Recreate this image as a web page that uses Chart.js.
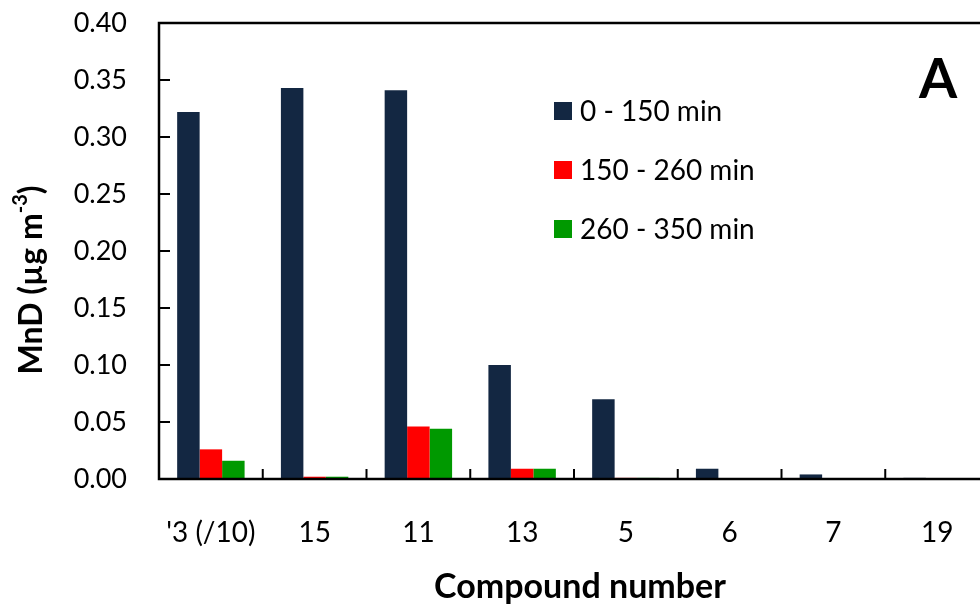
<!DOCTYPE html>
<html>
<head>
<meta charset="utf-8">
<script src="https://cdn.jsdelivr.net/npm/chart.js@4.4.1/dist/chart.umd.min.js"></script>
<style>
  html, body { margin: 0; padding: 0; background: #fff; overflow: hidden; }
  #wrap { width: 1000px; height: 605px; position: relative; }
</style>
</head>
<body>
<div id="wrap"><canvas id="myChart"></canvas></div>
<script>
// categorias (números dos compostos) e séries por intervalo de tempo
const compostos = ["'3 (/10)", "15", "11", "13", "5", "6", "7", "19"];
const legendas = ["0 - 150 min", "150 - 260 min", "260 - 350 min"];
const serie0a150 = [0.322, 0.343, 0.341, 0.100, 0.070, 0.009, 0.004, 0.001];
const serie150a260 = [0.026, 0.002, 0.046, 0.009, 0.001, 0.0005, 0.0003, 0.0002];
const serie260a350 = [0.016, 0.002, 0.044, 0.009, 0.001, 0.0005, 0.0003, 0.0002];
const cores = ["#132742", "#ff0000", "#009900"];

const fonte = "Lato, 'Open Sans', sans-serif";

// moldura, marcas internas, legenda e títulos desenhados à mão
const extras = {
    id: "extras",
    afterDraw(chart) {
        const ctx = chart.ctx;
        const a = chart.chartArea;
        const x = chart.scales.x;
        const y = chart.scales.y;
        ctx.save();
        ctx.strokeStyle = "#000";
        ctx.lineWidth = 2.5;
        ctx.strokeRect(a.left, a.top, a.right - a.left, a.bottom - a.top);

        ctx.lineWidth = 2;
        ctx.beginPath();
        y.ticks.forEach(t => {
            const py = y.getPixelForValue(t.value);
            ctx.moveTo(a.left, py);
            ctx.lineTo(a.left + 11, py);
        });
        for (let i = 0; i < compostos.length - 1; i++) {
            const px = (x.getPixelForTick(i) + x.getPixelForTick(i + 1)) / 2;
            ctx.moveTo(px, a.bottom);
            ctx.lineTo(px, a.bottom - 10);
        }
        ctx.stroke();

        // legenda
        ctx.font = "28px " + fonte;
        ctx.textBaseline = "middle";
        ctx.textAlign = "left";
        chart.data.datasets.forEach((ds, i) => {
            const top = 102 + i * 59;
            ctx.fillStyle = ds.backgroundColor;
            ctx.fillRect(554, top, 18, 18);
            ctx.fillStyle = "#000";
            ctx.fillText(ds.label, 580, top + 10);
        });

        // letra do painel
        ctx.font = "bold 55px " + fonte;
        ctx.textAlign = "center";
        ctx.textBaseline = "alphabetic";
        ctx.fillText("A", 938, 98);

        // título do eixo x
        ctx.font = "bold 34px " + fonte;
        ctx.fillText("Compound number", 580, 598);

        // título do eixo y com sobrescrito
        ctx.translate(32, 280);
        ctx.rotate(-Math.PI / 2);
        ctx.textBaseline = "middle";
        ctx.textAlign = "left";
        const base = "MnD (µg m";
        ctx.font = "bold 32px " + fonte;
        const w1 = ctx.measureText(base).width;
        ctx.font = "bold 20px " + fonte;
        const w2 = ctx.measureText("-3").width;
        ctx.font = "bold 32px " + fonte;
        const w3 = ctx.measureText(")").width;
        let sx = -(w1 + w2 + w3) / 2;
        ctx.fillText(base, sx, 0);
        sx += w1;
        ctx.font = "bold 20px " + fonte;
        ctx.fillText("-3", sx, -11);
        sx += w2;
        ctx.font = "bold 32px " + fonte;
        ctx.fillText(")", sx, 0);
        ctx.restore();
    }
};

const dados = {
    labels: compostos,
    datasets: [
        { label: legendas[0], data: serie0a150, backgroundColor: cores[0] },
        { label: legendas[1], data: serie150a260, backgroundColor: cores[1] },
        { label: legendas[2], data: serie260a350, backgroundColor: cores[2] }
    ]
};

const config = {
    type: "bar",
    data: dados,
    options: {
        responsive: true,
        maintainAspectRatio: false,
        animation: false,
        layout: { padding: { top: 23, right: 11, left: 0, bottom: 0 } },
        datasets: { bar: { categoryPercentage: 0.65, barPercentage: 1.0 } },
        plugins: { legend: { display: false }, tooltip: { enabled: false } },
        scales: {
            x: {
                grid: { display: false, drawTicks: false },
                border: { display: false },
                ticks: { color: "#000", font: { family: fonte, size: 28 }, padding: 37, maxRotation: 0 },
                afterFit(s) { s.height = 126; s.paddingLeft = 0; s.paddingRight = 0; }
            },
            y: {
                min: 0,
                max: 0.4,
                grid: { display: false, drawTicks: false },
                border: { display: false },
                ticks: {
                    stepSize: 0.05,
                    color: "#000",
                    font: { family: fonte, size: 27 },
                    padding: 32,
                    callback: v => v.toFixed(2)
                },
                afterFit(s) { s.width = 159; s.paddingTop = 0; s.paddingBottom = 0; }
            }
        }
    },
    plugins: [extras]
};

new Chart(document.getElementById("myChart").getContext("2d"), config);
</script>
</body>
</html>
